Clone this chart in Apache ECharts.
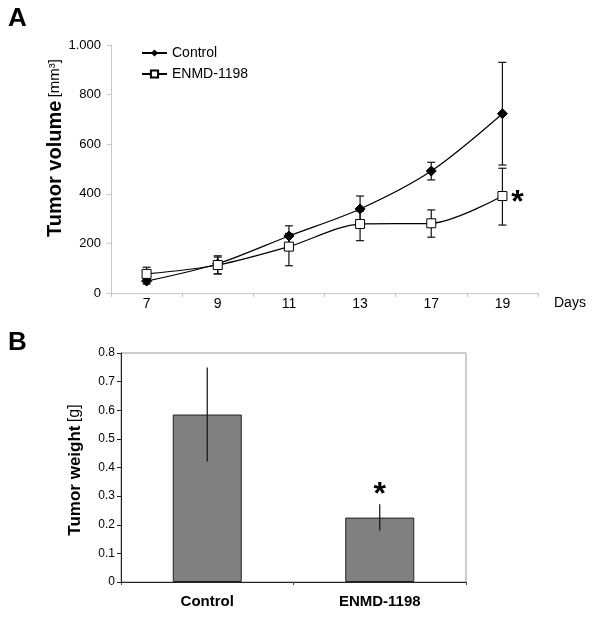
<!DOCTYPE html>
<html><head><meta charset="utf-8">
<script src="https://cdn.jsdelivr.net/npm/echarts@6/dist/echarts.min.js"></script>
<style>html,body{margin:0;padding:0;background:#fff}#c{width:600px;height:624px}</style>
</head><body><div id="c"></div>
<script>
const days = ['7','9','11','13','17','19'];
const controlVol = [48, 118, 230, 339, 492, 723];
const controlVolLow = [36, 77, 190, 290, 456, 516];
const controlVolHigh = [60, 150, 271, 391, 527, 930];
const enmdVol = [77, 113, 187, 278, 281, 391];
const enmdVolLow = [55, 77, 110, 211, 225, 274];
const enmdVolHigh = [104, 145, 240, 330, 335, 503];
const volTicks = [0, 200, 400, 600, 800, 1000];

const groups = ['Control', 'ENMD-1198'];
const weight = [0.585, 0.225];
const weightLow = [0.421, 0.180];
const weightHigh = [0.749, 0.272];

const FONT = 'Liberation Sans, Arial, sans-serif';

function errData(low, high) { return low.map((l, i) => [i, l, high[i]]); }
function errSeries(name, xi, yi, data, cap) {
  return {
    type: 'custom', name: name, xAxisIndex: xi, yAxisIndex: yi, z: 5, silent: true,
    data: data,
    renderItem: function (params, api) {
      const lo = api.coord([api.value(0), api.value(1)]);
      const hi = api.coord([api.value(0), api.value(2)]);
      const ch = [{ type: 'line', shape: { x1: lo[0], y1: lo[1], x2: hi[0], y2: hi[1] }, style: { stroke: '#111', lineWidth: 1.2 } }];
      if (cap > 0) {
        ch.push({ type: 'line', shape: { x1: lo[0] - cap, y1: lo[1], x2: lo[0] + cap, y2: lo[1] }, style: { stroke: '#111', lineWidth: 1.2 } });
        ch.push({ type: 'line', shape: { x1: hi[0] - cap, y1: hi[1], x2: hi[0] + cap, y2: hi[1] }, style: { stroke: '#111', lineWidth: 1.2 } });
      }
      return { type: 'group', children: ch };
    }
  };
}

const chart = echarts.init(document.getElementById('c'), null, { renderer: 'canvas' });
chart.setOption({
  animation: false,
  backgroundColor: '#fff',
  textStyle: { fontFamily: FONT },
  graphic: [
    { type: 'text', left: 8, top: 6, style: { text: 'A', font: 'bold 26px ' + FONT, fill: '#000' } },
    { type: 'text', left: 8, top: 330, style: { text: 'B', font: 'bold 26px ' + FONT, fill: '#000' } },
    { type: 'text', left: 554, top: 296, style: { text: 'Days', font: '14px ' + FONT, fill: '#000' } },
    { type: 'text', x: 55, y: 148, rotation: Math.PI / 2,
      style: { text: '{b|Tumor volume} {n|[mm³]}', align: 'center', verticalAlign: 'middle',
        rich: { b: { fontSize: 20, fontWeight: 'bold', fill: '#000', fontFamily: FONT }, n: { fontSize: 15, fill: '#000', fontFamily: FONT } } } },
    { type: 'text', x: 75, y: 470, rotation: Math.PI / 2,
      style: { text: '{b|Tumor weight} {n|[g]}', align: 'center', verticalAlign: 'middle',
        rich: { b: { fontSize: 17, fontWeight: 'bold', fill: '#000', fontFamily: FONT }, n: { fontSize: 16, fill: '#000', fontFamily: FONT } } } }
  ],
  legend: {
    left: 136, top: 41, orient: 'vertical', itemGap: 7, itemWidth: 25, itemHeight: 9,
    textStyle: { fontSize: 14, color: '#000', fontFamily: FONT },
    data: ['Control', 'ENMD-1198']
  },
  grid: [
    { left: 111, top: 45, width: 427, height: 248 },
    { left: 121, top: 353, width: 345, height: 229, show: true, borderColor: '#999', borderWidth: 1, backgroundColor: 'transparent' }
  ],
  xAxis: [
    { type: 'category', gridIndex: 0, data: days,
      axisLine: { lineStyle: { color: '#c8c8c8' } },
      axisTick: { show: true, length: 4, lineStyle: { color: '#c8c8c8' } },
      axisLabel: { color: '#000', fontSize: 14, margin: 4, fontFamily: FONT } },
    { type: 'category', gridIndex: 1, data: groups,
      axisLine: { lineStyle: { color: '#222' } },
      axisTick: { show: true, length: 3, lineStyle: { color: '#444' } },
      axisLabel: { color: '#000', fontSize: 15, fontWeight: 'bold', margin: 12, fontFamily: FONT } }
  ],
  yAxis: [
    { type: 'value', gridIndex: 0, min: 0, max: 1000, interval: 200,
      axisLine: { show: true, lineStyle: { color: '#c8c8c8' } },
      axisTick: { show: true, length: 4, lineStyle: { color: '#c8c8c8' } },
      splitLine: { show: false },
      axisLabel: { color: '#000', fontSize: 13, margin: 10, fontFamily: FONT,
        formatter: v => volTicks.includes(v) ? (v >= 1000 ? '1.000' : String(v)) : '' } },
    { type: 'value', gridIndex: 1, min: 0, max: 0.8, interval: 0.1,
      axisLine: { show: true, lineStyle: { color: '#222' } },
      axisTick: { show: true, length: 4, lineStyle: { color: '#222' } },
      splitLine: { show: false },
      axisLabel: { color: '#000', fontSize: 12, margin: 6, fontFamily: FONT, formatter: v => String(Math.round(v * 10) / 10) } }
  ],
  series: [
    errSeries('errC', 0, 0, errData(controlVolLow, controlVolHigh), 4),
    errSeries('errE', 0, 0, errData(enmdVolLow, enmdVolHigh), 4),
    { name: 'Control', type: 'line', xAxisIndex: 0, yAxisIndex: 0, data: controlVol, smooth: 0.3, z: 6,
      symbol: 'diamond', symbolSize: 10, itemStyle: { color: '#000', borderColor: '#000' },
      lineStyle: { color: '#000', width: 1.2 } },
    { name: 'ENMD-1198', type: 'line', xAxisIndex: 0, yAxisIndex: 0, data: enmdVol, smooth: 0.3, z: 6,
      symbol: 'rect', symbolSize: 9, itemStyle: { color: '#fff', borderColor: '#000', borderWidth: 1 },
      lineStyle: { color: '#000', width: 1.2 },
      markPoint: { symbol: 'circle', symbolSize: 0, silent: true,
        data: [{ coord: ['19', 391], label: { show: true, formatter: '*', offset: [15, 7], fontSize: 32, fontWeight: 'bold', color: '#000', fontFamily: FONT } }] } },
    { name: 'weight', type: 'bar', xAxisIndex: 1, yAxisIndex: 1, data: weight, barWidth: '40%', z: 2,
      itemStyle: { color: '#808080', borderColor: '#222', borderWidth: 1 },
      markPoint: { symbol: 'circle', symbolSize: 0, silent: true,
        data: [{ coord: ['ENMD-1198', 0.272], label: { show: true, formatter: '*', offset: [0, -9], fontSize: 32, fontWeight: 'bold', color: '#000', fontFamily: FONT } }] } },
    errSeries('errW', 1, 1, errData(weightLow, weightHigh), 0)
  ]
});
</script></body></html>
